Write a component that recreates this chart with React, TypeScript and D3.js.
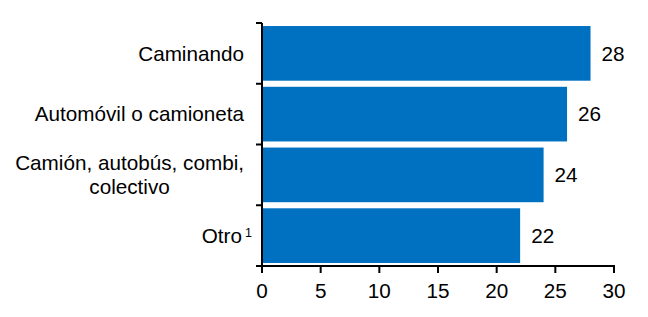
import React, { useEffect, useRef } from "react";
import * as d3 from "d3";

const categories = ["Caminando", "Automóvil o camioneta", "Camión, autobús, combi, colectivo", "Otro"];
const labelLines = [["Caminando"], ["Automóvil o camioneta"], ["Camión, autobús, combi,", "colectivo"], ["Otro"]];
const labelSup = ["", "", "", "1"];
const values = [28, 26, 24, 22];
const xTicks = [0, 5, 10, 15, 20, 25, 30];

const W = 648;
const H = 317;
const FONT = "Liberation Sans, Arial, sans-serif";
const FS = 20.7;
const BLUE = "#0070C0";

export default function App() {
  const ref = useRef<SVGSVGElement | null>(null);

  useEffect(() => {
    const svg = d3.select(ref.current);
    svg.selectAll("*").remove();

    const x = d3.scaleLinear().domain([0, 30]).range([262, 614]);
    const y = d3.scaleBand<string>().domain(categories).range([23, 266]).paddingInner(0.1).paddingOuter(0.05);

    // bars
    svg.append("g")
      .selectAll("rect")
      .data(categories)
      .join("rect")
      .attr("x", x(0))
      .attr("y", (d) => y(d)!)
      .attr("width", (_d, i) => x(values[i]) - x(0))
      .attr("height", y.bandwidth())
      .attr("fill", BLUE);

    // value labels
    svg.append("g")
      .selectAll("text")
      .data(categories)
      .join("text")
      .attr("x", (_d, i) => x(values[i]) + 11)
      .attr("y", (d) => y(d)! + y.bandwidth() / 2 + FS * 0.35)
      .attr("font-family", FONT)
      .attr("font-size", FS)
      .attr("fill", "#000")
      .text((_d, i) => String(values[i]));

    // y axis line and ticks at band boundaries
    const [r0, r1] = y.range();
    const ya = svg.append("g").attr("stroke", "#000").attr("stroke-width", 2);
    ya.append("line").attr("x1", x(0)).attr("x2", x(0)).attr("y1", r0).attr("y2", r1 + 1);
    const boundaries = d3.range(categories.length + 1).map((i) => r0 + ((r1 - r0) * i) / categories.length);
    ya.selectAll("line.t")
      .data(boundaries)
      .join("line")
      .attr("class", "t")
      .attr("x1", x(0) - 6)
      .attr("x2", x(0))
      .attr("y1", (d) => d)
      .attr("y2", (d) => d);

    // x axis
    const xa = svg.append("g").attr("stroke", "#000").attr("stroke-width", 2);
    xa.append("line").attr("x1", x(0) - 6).attr("x2", x(30) + 1).attr("y1", r1).attr("y2", r1);
    xa.selectAll("line.t")
      .data(xTicks)
      .join("line")
      .attr("class", "t")
      .attr("x1", (d) => x(d))
      .attr("x2", (d) => x(d))
      .attr("y1", r1)
      .attr("y2", r1 + 7);

    svg.append("g")
      .selectAll("text")
      .data(xTicks)
      .join("text")
      .attr("x", (d) => x(d))
      .attr("y", 298)
      .attr("text-anchor", "middle")
      .attr("font-family", FONT)
      .attr("font-size", FS)
      .attr("fill", "#000")
      .text((d) => String(d));

    // category labels
    const labelX = 244;
    const lh = 23.5;
    categories.forEach((c, i) => {
      const lines = labelLines[i];
      const cy = y(c)! + y.bandwidth() / 2;
      const first = cy - ((lines.length - 1) * lh) / 2 + FS * 0.35;
      if (lines.length === 1) {
        svg.append("text")
          .attr("x", labelSup[i] ? labelX - 2 : labelX)
          .attr("y", first)
          .attr("text-anchor", "end")
          .attr("font-family", FONT)
          .attr("font-size", FS)
          .attr("fill", "#000")
          .text(lines[0]);
        if (labelSup[i]) {
          svg.append("text")
            .attr("x", labelX + 1)
            .attr("y", first - 6)
            .attr("font-family", FONT)
            .attr("font-size", 12.5)
            .attr("fill", "#000")
            .text(labelSup[i]);
        }
      } else {
        const g = svg.append("g");
        const texts = lines.map((ln, j) =>
          g.append("text")
            .attr("y", first + j * lh)
            .attr("text-anchor", "middle")
            .attr("font-family", FONT)
            .attr("font-size", FS)
            .attr("fill", "#000")
            .text(ln)
        );
        const maxW = d3.max(texts, (t) => (t.node() as SVGTextElement).getComputedTextLength()) || 0;
        texts.forEach((t) => t.attr("x", labelX - maxW / 2));
      }
    });
  }, []);

  return (
    <svg
      ref={ref}
      width={W}
      height={H}
      style={{ position: "absolute", left: 0, top: 0, background: "#fff" }}
    />
  );
}
